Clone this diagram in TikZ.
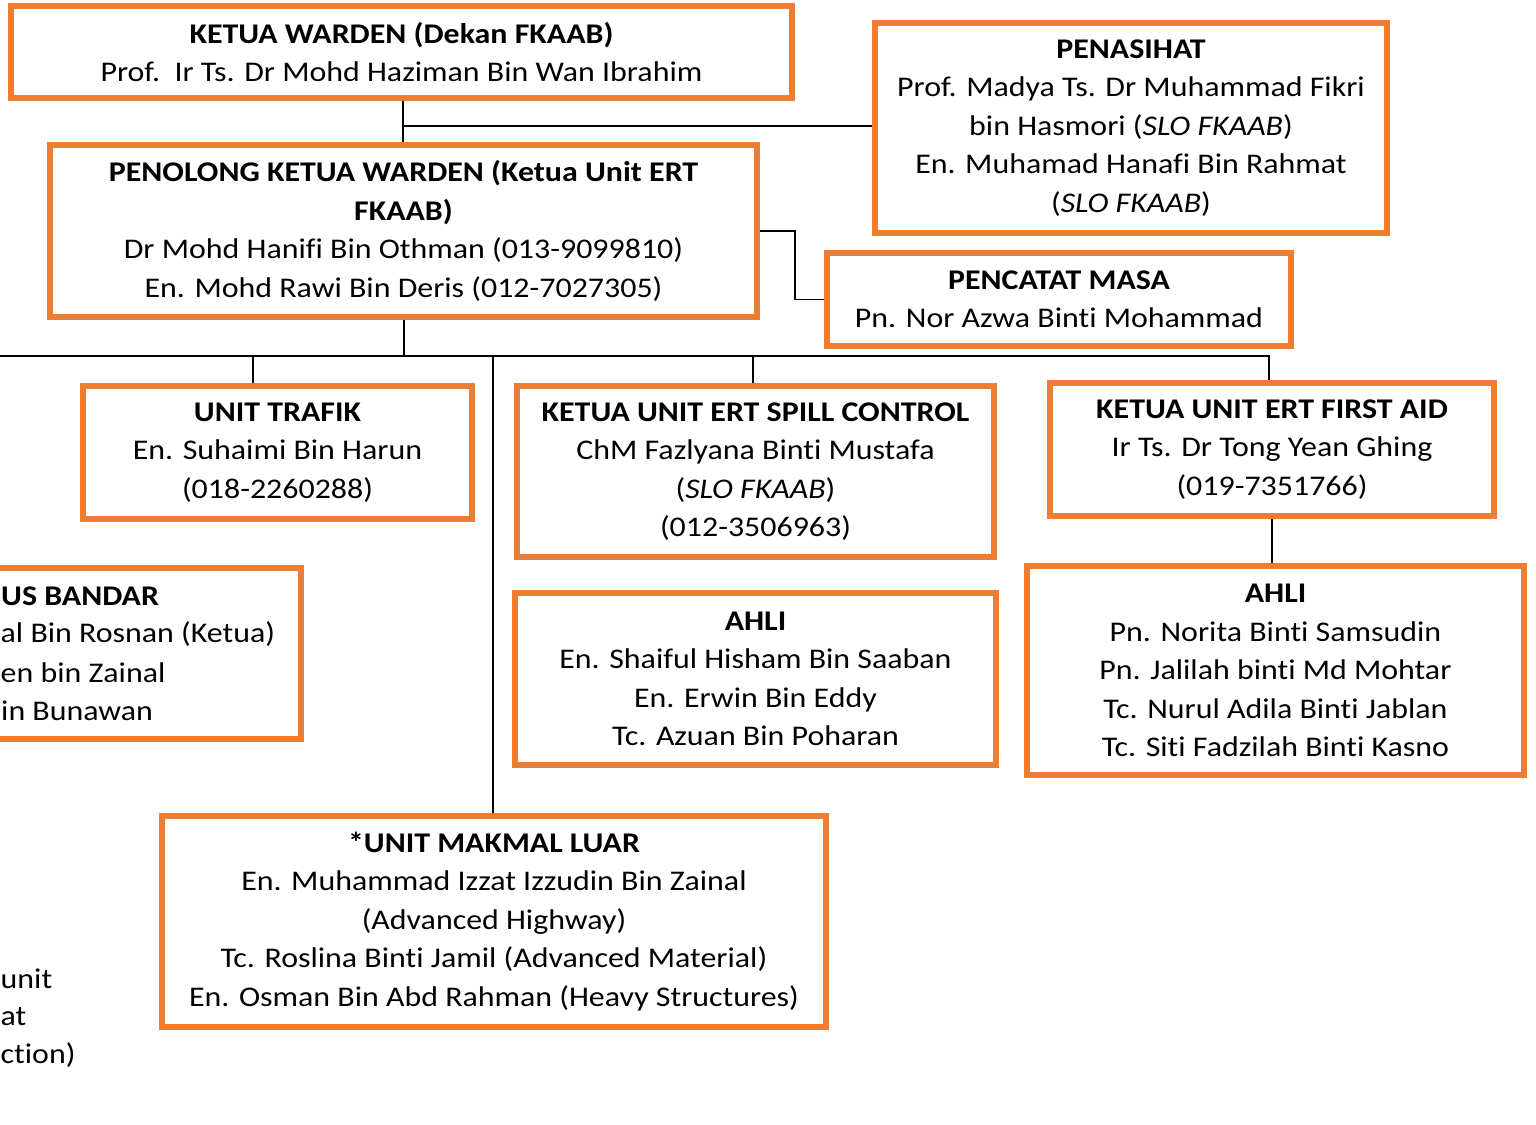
\documentclass[tikz,border=0pt]{standalone}
\usepackage{fontspec}
\setmainfont{Carlito}[FakeStretch=1.12, Ligatures={NoCommon}]
\definecolor{borange}{HTML}{ED7D31}
\tikzset{
  box/.style={draw=borange, line width=6pt, rectangle, inner sep=0pt, align=center,
    font=\fontsize{28.5}{38.5}\selectfont},
  frag/.style={inner sep=0pt, font=\fontsize{28.5}{38.5}\selectfont},
  conn/.style={draw=black, line width=2pt},
  thinconn/.style={draw=black, line width=1.3pt}
}
\begin{document}
\begin{tikzpicture}[x=1pt,y=-1pt]
\useasboundingbox (0,0) rectangle (1536,1124);
\clip (0,0) rectangle (1536,1124);
\fill[white] (0,0) rectangle (1536,1124);

% boxes
\node[box, minimum width=781pt, minimum height=92pt] (kw) at (401.5,52)
  {\textbf{KETUA WARDEN (Dekan FKAAB)}\\Prof.\ \ Ir Ts. Dr Mohd Haziman Bin Wan Ibrahim};
\node[box, minimum width=512pt, minimum height=210pt] (pen) at (1131,128)
  {\textbf{PENASIHAT}\\Prof. Madya Ts. Dr Muhammad Fikri\\bin Hasmori (\textit{SLO FKAAB})\\En. Muhamad Hanafi Bin Rahmat\\(\textit{SLO FKAAB})};
\node[box, minimum width=707pt, minimum height=172pt] (pkw) at (403.5,231)
  {\textbf{PENOLONG KETUA WARDEN (Ketua Unit ERT}\\\textbf{FKAAB)}\\Dr Mohd Hanifi Bin Othman (013-9099810)\\En. Mohd Rawi Bin Deris (012-7027305)};
\node[box, minimum width=464pt, minimum height=93pt] (pm) at (1059,299.5)
  {\textbf{PENCATAT MASA}\\Pn. Nor Azwa Binti Mohammad};
\node[box, minimum width=389pt, minimum height=133pt] (ut) at (277.5,452.5)
  {\textbf{UNIT TRAFIK}\\En. Suhaimi Bin Harun\\(018-2260288)};
\node[box, minimum width=477pt, minimum height=171pt] (sc) at (755.5,471.5)
  {\textbf{KETUA UNIT ERT SPILL CONTROL}\\ChM Fazlyana Binti Mustafa\\(\textit{SLO FKAAB})\\(012-3506963)};
\node[box, minimum width=444pt, minimum height=133pt] (fa) at (1272,449.5)
  {\textbf{KETUA UNIT ERT FIRST AID}\\Ir Ts. Dr Tong Yean Ghing\\(019-7351766)};
\node[box, minimum width=481pt, minimum height=172pt] (ah1) at (755.5,679)
  {\textbf{AHLI}\\En. Shaiful Hisham Bin Saaban\\En. Erwin Bin Eddy\\Tc. Azuan Bin Poharan};
\node[box, minimum width=497pt, minimum height=209pt] (ah2) at (1275.5,670.5)
  {\textbf{AHLI}\\Pn. Norita Binti Samsudin\\Pn. Jalilah binti Md Mohtar\\Tc. Nurul Adila Binti Jablan\\Tc. Siti Fadzilah Binti Kasno};
\node[box, minimum width=664pt, minimum height=211pt] (ml) at (494,921.5)
  {\textbf{*UNIT MAKMAL LUAR}\\En. Muhammad Izzat Izzudin Bin Zainal\\(Advanced Highway)\\Tc. Roslina Binti Jamil (Advanced Material)\\En. Osman Bin Abd Rahman (Heavy Structures)};

% partially visible box on the left
\node[draw=borange, line width=6pt, rectangle, minimum width=600pt, minimum height=171pt, inner sep=0pt] (kb) at (1,653.5) {};
\node[frag, anchor=west] (kb1) at (1,596) {\textbf{US BANDAR}};
\node[frag, anchor=west] (kb2) at (0.5,634) {al Bin Rosnan (Ketua)};
\node[frag, anchor=west] (kb3) at (0.5,673) {en bin Zainal};
\node[frag, anchor=west] (kb4) at (1,711) {in Bunawan};

% partially visible text bottom left
\node[frag, anchor=west] (bl1) at (0.5,979) {unit};
\node[frag, anchor=west] (bl2) at (0.5,1017) {at};
\node[frag, anchor=west] (bl3) at (0.5,1055) {ction)};

% connectors
\coordinate (j1) at ([xshift=1.5pt]kw.south |- 0,126);
\draw[conn] ([xshift=1.5pt]kw.south) -- ([xshift=1.5pt]kw.south |- pkw.north);
\draw[thinconn] (j1) -- (j1 -| pen.west);
\draw[thinconn] (pkw.east) -- ++(35,0) |- (pm.west);

\coordinate (busL) at (0,356);
\coordinate (busR) at (1269,356);
\draw[conn] (pkw.south) -- (pkw.south |- busL);
\draw[conn] (busL) -- (busR) -- (busR |- fa.north);
\draw[conn] ([xshift=-24.5pt]ut.north) -- ([xshift=-24.5pt]ut.north |- busL);
\draw[conn] ([xshift=-2.5pt]sc.north) -- ([xshift=-2.5pt]sc.north |- busL);
\draw[conn] ([xshift=-1pt]ml.north) -- ([xshift=-1pt]ml.north |- busL);
\draw[conn] (fa.south) -- (fa.south |- ah2.north);
\end{tikzpicture}
\end{document}
